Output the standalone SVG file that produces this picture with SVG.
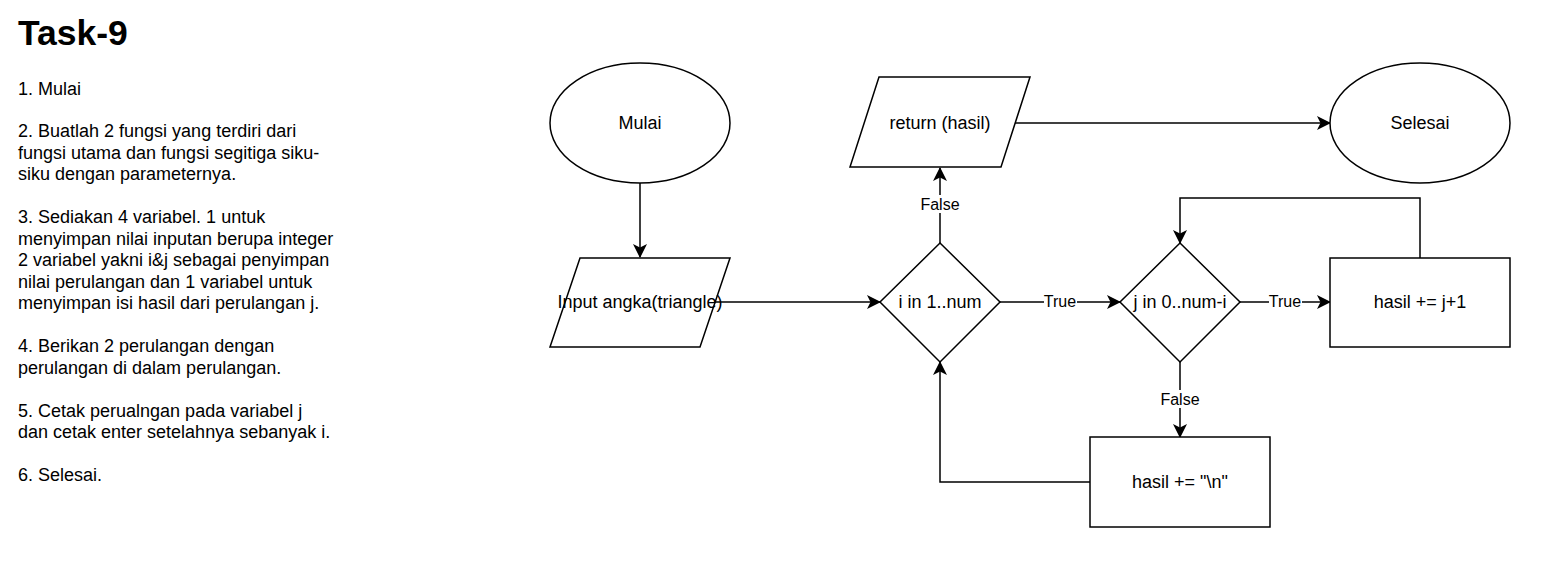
<svg xmlns="http://www.w3.org/2000/svg" width="1547" height="562" viewBox="0 0 1547 562">
<style>
.s{fill:#fff;stroke:#000;stroke-width:1.5}
.t{font-family:"Liberation Sans",Arial,sans-serif;font-size:18px;fill:#000;text-anchor:middle}
.b{font-family:"Liberation Sans",Arial,sans-serif;font-size:18px;fill:#000}
.l{font-family:"Liberation Sans",Arial,sans-serif;font-size:16px;fill:#000;text-anchor:middle}
.c{fill:none;stroke:#000;stroke-width:1.5}
.lb{fill:#fff}
</style>
<defs>
<marker id="a" viewBox="0 0 14 14" refX="13" refY="7" markerWidth="14" markerHeight="14" markerUnits="userSpaceOnUse" orient="auto">
<path d="M0,0 L14,7 L0,14 L3.5,7 Z" fill="#000"/>
</marker>
</defs>
<rect width="1547" height="562" fill="#fff"/>
<g id="notes">
<text x="18" y="45" font-family="Liberation Sans,Arial,sans-serif" font-size="35.5" font-weight="bold">Task-9</text>
<text class="b" x="18" y="95">1. Mulai</text>
<text class="b" x="18" y="137">2. Buatlah 2 fungsi yang terdiri dari</text>
<text class="b" x="18" y="158.5">fungsi utama dan fungsi segitiga siku-</text>
<text class="b" x="18" y="180">siku dengan parameternya.</text>
<text class="b" x="18" y="223">3. Sediakan 4 variabel. 1 untuk</text>
<text class="b" x="18" y="244.5">menyimpan nilai inputan berupa integer</text>
<text class="b" x="18" y="266">2 variabel yakni i&amp;j sebagai penyimpan</text>
<text class="b" x="18" y="287.5">nilai perulangan dan 1 variabel untuk</text>
<text class="b" x="18" y="309">menyimpan isi hasil dari perulangan j.</text>
<text class="b" x="18" y="352">4. Berikan 2 perulangan dengan</text>
<text class="b" x="18" y="373.5">perulangan di dalam perulangan.</text>
<text class="b" x="18" y="416.5">5. Cetak perualngan pada variabel j</text>
<text class="b" x="18" y="438">dan cetak enter setelahnya sebanyak i.</text>
<text class="b" x="18" y="481">6. Selesai.</text>
</g>
<g id="connectors">
<path class="c" d="M640,183 L640,257" marker-end="url(#a)"/>
<path class="c" d="M715,302 L880,302" marker-end="url(#a)"/>
<path class="c" d="M940,243 L940,168" marker-end="url(#a)"/>
<path class="c" d="M1015,123 L1330,123" marker-end="url(#a)"/>
<path class="c" d="M1000,302 L1120,302" marker-end="url(#a)"/>
<path class="c" d="M1240,302 L1330,302" marker-end="url(#a)"/>
<path class="c" d="M1420,258 L1420,198 L1180,198 L1180,243" marker-end="url(#a)"/>
<path class="c" d="M1180,362 L1180,437" marker-end="url(#a)"/>
<path class="c" d="M1090,482 L940,482 L940,362" marker-end="url(#a)"/>
<rect class="lb" x="919" y="195" width="42" height="18"/>
<text class="l" x="940" y="210">False</text>
<rect class="lb" x="1044" y="293" width="33" height="17"/>
<text class="l" x="1060" y="307">True</text>
<rect class="lb" x="1269" y="293" width="33" height="17"/>
<text class="l" x="1285" y="307">True</text>
<rect class="lb" x="1159" y="390" width="42" height="18"/>
<text class="l" x="1180" y="405">False</text>
</g>
<g id="mulai">
<ellipse class="s" cx="640" cy="123" rx="90" ry="60"/>
<text class="t" x="640" y="129">Mulai</text>
</g>
<g id="input">
<polygon class="s" points="580,258 730,258 700,347 550,347"/>
<text class="t" x="640" y="308">Input angka(triangle)</text>
</g>
<g id="return">
<polygon class="s" points="879,77 1030,77 1001,167 850,167"/>
<text class="t" x="940" y="129">return (hasil)</text>
</g>
<g id="selesai">
<ellipse class="s" cx="1420" cy="123" rx="90" ry="60"/>
<text class="t" x="1420" y="129">Selesai</text>
</g>
<g id="loop-i">
<polygon class="s" points="940,243 1000,302 940,362 880,302"/>
<text class="t" x="940" y="308">i in 1..num</text>
</g>
<g id="loop-j">
<polygon class="s" points="1180,243 1240,302 1180,362 1120,302"/>
<text class="t" x="1180" y="308">j in 0..num-i</text>
</g>
<g id="add-j">
<rect class="s" x="1330" y="258" width="180" height="89"/>
<text class="t" x="1420" y="308">hasil += j+1</text>
</g>
<g id="add-newline">
<rect class="s" x="1090" y="437" width="180" height="90"/>
<text class="t" x="1180" y="488">hasil += "\n"</text>
</g>
</svg>
